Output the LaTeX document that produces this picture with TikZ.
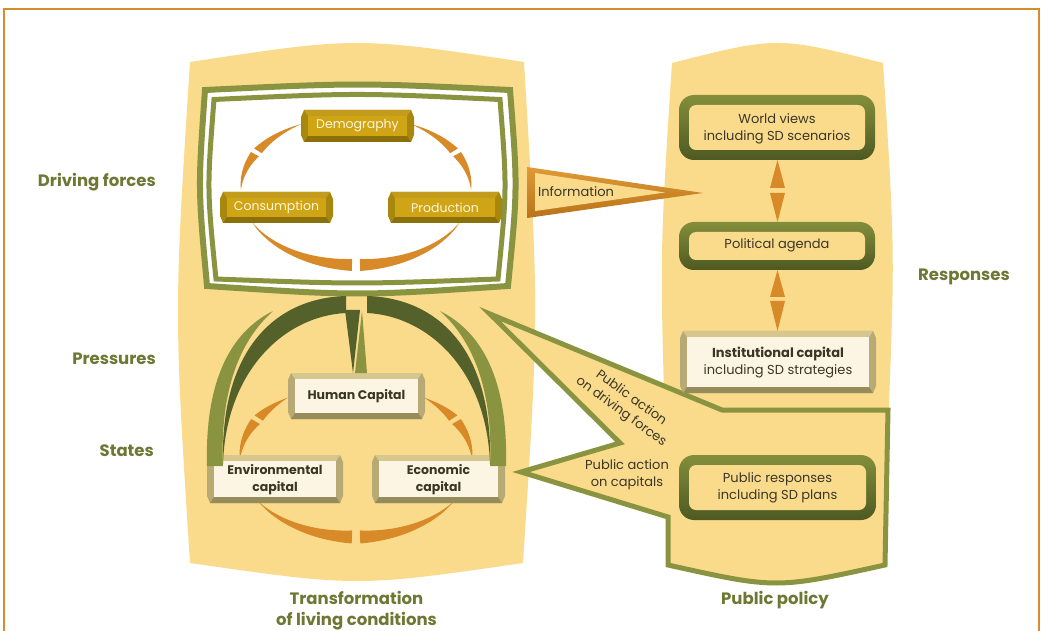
\documentclass[tikz,border=0pt]{standalone}
\usepackage{fontspec}
\setmainfont{Poppins}
\definecolor{panel}{HTML}{FADB8C}
\definecolor{frameorange}{HTML}{D98C2C}
\definecolor{olive}{HTML}{8A9440}
\definecolor{darkolive}{HTML}{55612A}
\definecolor{arroworange}{HTML}{D88A28}
\definecolor{labelolive}{HTML}{6E7834}
\definecolor{textdark}{HTML}{3A3626}
\definecolor{goldface}{HTML}{CFA415}
\definecolor{goldtop}{HTML}{C29C1A}
\definecolor{goldbot}{HTML}{8C7009}
\definecolor{goldside}{HTML}{A8870F}
\definecolor{goldtext}{HTML}{FFF6DA}
\definecolor{cream}{HTML}{FCF5E4}
\definecolor{khakitop}{HTML}{D6C78F}
\definecolor{khakibot}{HTML}{968B5B}
\definecolor{khakiside}{HTML}{B8AA75}
\definecolor{infotop}{HTML}{E09A36}
\definecolor{infobot}{HTML}{B8731A}
\definecolor{gboxtop}{HTML}{838E3B}
\definecolor{gboxbot}{HTML}{4E5923}
% beveled box: x1 y1 x2 y2 top bottom side face
\newcommand{\bevbox}[8]{%
  \fill[#7] (#1+3,#2) -- (#3-3,#2) -- (#3,#2+7) -- (#3,#4-7) -- (#3-3,#4) -- (#1+3,#4) -- (#1,#4-7) -- (#1,#2+7) -- cycle;
  \fill[#5] (#1+3,#2) -- (#3-3,#2) -- (#3-7,#2+6) -- (#1+7,#2+6) -- cycle;
  \fill[#6] (#1+3,#4) -- (#3-3,#4) -- (#3-7,#4-6) -- (#1+7,#4-6) -- cycle;
  \fill[#8] (#1+7,#2+6) rectangle (#3-7,#4-6);
}
% curved wedge on an ellipse: cx cy rx ry tip-angle base-angle halfwidth
\newcommand{\owedge}[7]{%
  \fill[arroworange] plot[domain=0:1, samples=40] ({#1+(#3+#7*\x)*cos((#5)+\x*((#6)-(#5)))}, {#2+(#4+#7*\x)*sin((#5)+\x*((#6)-(#5)))})
   -- plot[domain=0:1, samples=40] ({#1+(#3-#7*(1-\x))*cos((#6)-\x*((#6)-(#5)))}, {#2+(#4-#7*(1-\x))*sin((#6)-\x*((#6)-(#5)))}) -- cycle;
}
\begin{document}
\begin{tikzpicture}[x=1pt,y=-1pt,
  lab/.style={font=\fontsize{16.5}{21}\selectfont\bfseries, text=labelolive, inner sep=0, align=center},
  goldtxt/.style={font=\fontsize{12.5}{14}\selectfont, text=goldtext, inner sep=0},
  boxtxt/.style={font=\fontsize{13}{17}\selectfont, text=textdark, align=center, inner sep=0},
  boldtxt/.style={font=\fontsize{12.5}{17}\selectfont\bfseries, text=textdark, align=center, inner sep=0},
  darrow/.style={fill=arroworange},
  gbox/.style={top color=gboxtop, bottom color=gboxbot, rounded corners=15},
  gboxin/.style={fill=panel, rounded corners=7}
]
\useasboundingbox (0,0) rectangle (1045,631);
\fill[white] (0,0) rectangle (1045,631);
\draw[frameorange, line width=2] (4,9) rectangle (1039,660);

% panels
\fill[panel] (190,62) .. controls (357,36.7) .. (524,62) .. controls (539,312) .. (523,563) .. controls (357,587) .. (190,563) .. controls (174,312) .. (190,62) -- cycle;
\fill[panel] (672,63) .. controls (777,36.3) .. (883,63) .. controls (895,250) .. (888,430) -- (665,430) .. controls (660,250) .. (672,63) -- cycle;

% public action callout
\draw[olive, line width=5, fill=panel, line join=miter, miter limit=10] (490,314) -- (722,410) -- (888,410) -- (885,565) .. controls (776,589) .. (668,565) -- (668,517) -- (521,472) -- (620,443) -- cycle;

% information callout
\shade[top color=infotop, bottom color=infobot] (527,167) -- (703,193) -- (527,218) -- cycle;
\fill[panel] (535,173) -- (665,192.5) -- (535,211) -- cycle;
\node[boxtxt, anchor=west] (info) at (538,192) {Information};

% double frame
\filldraw[fill=white, draw=olive, line width=6, line join=miter] (205,90) .. controls (357.5,82.7) .. (510,90) .. controls (517.7,188) .. (508,286) .. controls (357.5,296) .. (207,286) .. controls (198,188) .. (205,90) -- cycle;
\draw[olive, line width=5, line join=miter] (214,99.5) .. controls (357,92.8) .. (500,99.5) .. controls (507,189) .. (498,279) .. controls (357,284.3) .. (216,279) .. controls (207,189) .. (214,99.5) -- cycle;

% driving forces loop
\owedge{356}{190}{115}{75}{241.4}{211.5}{4.5}
\owedge{356}{190}{115}{75}{180}{208.5}{4.5}
\owedge{356}{190}{115}{75}{155}{92}{6}
\owedge{356}{190}{115}{75}{25}{88}{6}
\owedge{356}{190}{115}{75}{360}{331.5}{4.5}
\owedge{356}{190}{115}{75}{298.6}{328.5}{4.5}

\bevbox{301}{110}{414}{142}{goldtop}{goldbot}{goldside}{goldface}
\bevbox{220}{192}{333}{223}{goldtop}{goldbot}{goldside}{goldface}
\bevbox{388}{192}{502}{223}{goldtop}{goldbot}{goldside}{goldface}
\node[goldtxt] (demo) at (357.5,126) {Demography};
\node[goldtxt] (cons) at (276.5,207) {Consumption};
\node[goldtxt] (prod) at (445,207.5) {Production};

% states loop
\owedge{356}{460}{116}{77}{234}{213}{5}
\owedge{356}{460}{116}{77}{180}{210}{5}
\owedge{356}{460}{116}{77}{147.7}{92}{6.5}
\owedge{356}{460}{116}{77}{32.3}{88}{6.5}
\owedge{356}{460}{116}{77}{360}{330}{5}
\owedge{356}{460}{116}{77}{306}{327}{5}

\bevbox{288}{373}{425}{419}{khakitop}{khakibot}{khakiside}{cream}
\bevbox{207}{455}{343}{503}{khakitop}{khakibot}{khakiside}{cream}
\bevbox{372}{455}{505}{503}{khakitop}{khakibot}{khakiside}{cream}
\node[boldtxt] (hc) at (356.5,396) {Human Capital};
\node[boldtxt] (env) at (275,479.5) {Environmental\\capital};
\node[boldtxt] (eco) at (438.5,479.5) {Economic\\capital};

% pressure arcs
\fill[darkolive] (346,296) .. controls (275,298) and (220,350) .. (223,464) .. controls (226,370) and (285,316) .. (346,313) -- cycle;
\fill[darkolive] (367,296) .. controls (438,298) and (493,350) .. (490,464) .. controls (487,370) and (428,316) .. (367,313) -- cycle;
\fill[olive] (273,311) .. controls (225,335) and (205,390) .. (207,466) -- (223,466) .. controls (220,400) and (235,345) .. (273,311) -- cycle;
\fill[olive] (440,311) .. controls (488,335) and (508,390) .. (506,466) -- (490,466) .. controls (493,400) and (478,345) .. (440,311) -- cycle;
\fill[darkolive] (345,310) -- (360,310) -- (353,373) -- cycle;
\fill[olive] (362,311) -- (367,373) -- (355,373) -- cycle;

% right column
\shade[gbox] (679,95) rectangle (875,160);
\fill[gboxin] (689,105) rectangle (865,150);
\node[boxtxt] (wv) at (777,128.5) {World views\\including SD scenarios};
\shade[gbox] (679,222) rectangle (875,270);
\fill[gboxin] (689,232) rectangle (865,260);
\node[boxtxt] (pa) at (777,245) {Political agenda};
\bevbox{680}{331}{876}{393}{khakitop}{khakibot}{khakiside}{cream}
\node[boxtxt] (ic) at (778,362.5) {\textbf{Institutional capital}\\including SD strategies};
\shade[gbox] (679,455) rectangle (876,520);
\fill[gboxin] (689,465) rectangle (866,510);
\node[boxtxt] (prs) at (777.5,487.5) {Public responses\\including SD plans};

\fill[darrow] (770,188) -- (785,188) -- (777.5,160) -- cycle;
\fill[darrow] (770,193) -- (785,193) -- (777.5,222) -- cycle;
\fill[darrow] (770,297) -- (785,297) -- (777.5,270) -- cycle;
\fill[darrow] (770,301) -- (785,301) -- (777.5,331) -- cycle;

% callout texts
\node[boxtxt, rotate=-36] (padf1) at (632,397) {Public action};
\node[boxtxt, rotate=-36] (padf2) at (621,412) {on driving forces};
\node[boxtxt] (pac) at (627,474.5) {Public action\\on capitals};

% side labels
\node[lab, anchor=east] (df) at (156,182) {Driving forces};
\node[lab, anchor=east] (pres) at (156,359) {Pressures};
\node[lab, anchor=east] (sts) at (154,451) {States};
\node[lab] (resp) at (964,277) {Responses};
\node[lab] (tlc) at (356.5,611) {Transformation\\of living conditions};
\node[lab] (pp) at (775,600) {Public policy};
\end{tikzpicture}
\end{document}
